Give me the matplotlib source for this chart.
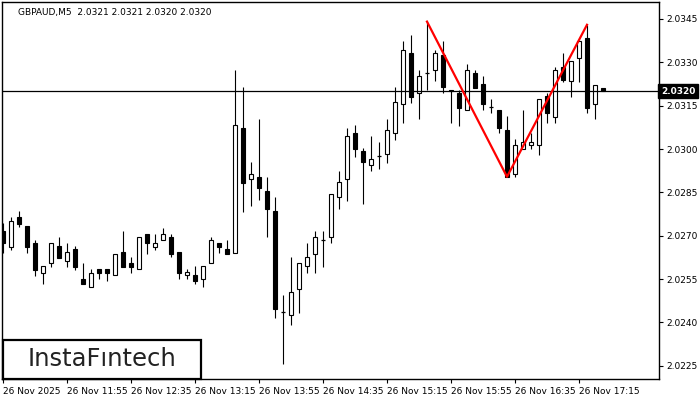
import numpy as np
import matplotlib
matplotlib.use('Agg')
import matplotlib.pyplot as plt
from matplotlib.patches import Rectangle

# GBPAUD M5, 26 Nov 2025, 11:15 .. 17:30
opens = [2.02717, 2.02662, 2.02764, 2.02734, 2.02676, 2.02572, 2.02605, 2.02665,
         2.02614, 2.02654, 2.02551, 2.02524, 2.02584, 2.02584, 2.02563, 2.02644,
         2.02606, 2.02584, 2.02706, 2.02662, 2.02684, 2.02696, 2.02644, 2.02563,
         2.02563, 2.02551, 2.02605, 2.02674, 2.02654, 2.02641, 2.03073, 2.02895,
         2.02903, 2.02855, 2.02786, 2.02435, 2.02425, 2.02515, 2.02594, 2.02636,
         2.02684, 2.02695, 2.02833, 2.02895, 2.03055, 2.02992, 2.02944, 2.02975,
         2.02982, 2.03055, 2.03155, 2.03331, 2.03193, 2.03263, 2.03272, 2.03324,
         2.03203, 2.03193, 2.03134, 2.03263, 2.03224, 2.03144, 2.03134, 2.03066,
         2.02913, 2.03001, 2.03013, 2.03013, 2.03184, 2.03112, 2.03283, 2.03234,
         2.03314, 2.03384, 2.03155, 2.03210]
highs = [2.02743, 2.02764, 2.02786, 2.02734, 2.02685, 2.02595, 2.02674, 2.02697,
         2.02676, 2.02665, 2.02605, 2.02584, 2.02584, 2.02584, 2.02636, 2.02716,
         2.02626, 2.02695, 2.02706, 2.02706, 2.02727, 2.02706, 2.02644, 2.02584,
         2.02595, 2.02594, 2.02696, 2.02674, 2.02685, 2.03274, 2.03216, 2.02956,
         2.03105, 2.02904, 2.02835, 2.02495, 2.02628, 2.02606, 2.02675, 2.02715,
         2.02715, 2.02843, 2.02924, 2.03073, 2.03083, 2.03003, 2.03045, 2.03024,
         2.03104, 2.03215, 2.03373, 2.03395, 2.03272, 2.03441, 2.03342, 2.03373,
         2.03204, 2.03203, 2.03293, 2.03272, 2.03252, 2.03172, 2.03134, 2.03114,
         2.03034, 2.03135, 2.03055, 2.03172, 2.03193, 2.03283, 2.03333, 2.03304,
         2.03373, 2.03430, 2.03223, 2.03210]
lows = [2.02641, 2.02651, 2.02730, 2.02641, 2.02561, 2.02533, 2.02593, 2.02624,
        2.02593, 2.02582, 2.02534, 2.02524, 2.02551, 2.02545, 2.02563, 2.02593,
        2.02572, 2.02584, 2.02636, 2.02651, 2.02684, 2.02625, 2.02551, 2.02551,
        2.02534, 2.02524, 2.02605, 2.02641, 2.02636, 2.02641, 2.02783, 2.02804,
        2.02824, 2.02695, 2.02414, 2.02255, 2.02391, 2.02434, 2.02572, 2.02572,
        2.02593, 2.02674, 2.02794, 2.02821, 2.02974, 2.02811, 2.02923, 2.02932,
        2.02953, 2.03031, 2.03091, 2.03160, 2.03103, 2.03203, 2.03234, 2.03193,
        2.03091, 2.03081, 2.03134, 2.03212, 2.03134, 2.03124, 2.03055, 2.02904,
        2.02902, 2.03001, 2.03001, 2.02980, 2.03091, 2.03091, 2.03233, 2.03181,
        2.03233, 2.03124, 2.03103, 2.03200]
closes = [2.02674, 2.02752, 2.02742, 2.02662, 2.02582, 2.02595, 2.02674, 2.02624,
          2.02644, 2.02593, 2.02534, 2.02572, 2.02572, 2.02572, 2.02636, 2.02593,
          2.02593, 2.02695, 2.02674, 2.02674, 2.02705, 2.02636, 2.02572, 2.02575,
          2.02545, 2.02594, 2.02684, 2.02662, 2.02636, 2.03083, 2.02884, 2.02913,
          2.02864, 2.02794, 2.02445, 2.02435, 2.02504, 2.02606, 2.02625, 2.02695,
          2.02684, 2.02843, 2.02885, 2.03044, 2.03001, 2.02954, 2.02965, 2.02975,
          2.03065, 2.03162, 2.03342, 2.03181, 2.03252, 2.03263, 2.03331, 2.03214,
          2.03200, 2.03143, 2.03272, 2.03212, 2.03155, 2.03144, 2.03072, 2.02904,
          2.03013, 2.03023, 2.03023, 2.03172, 2.03124, 2.03272, 2.03240, 2.03304,
          2.03373, 2.03143, 2.03223, 2.03200]

tick_pos = [0, 8, 16, 24, 32, 40, 48, 56, 64, 72]
tick_labels = ['26 Nov 2025', '26 Nov 11:55', '26 Nov 12:35', '26 Nov 13:15',
               '26 Nov 13:55', '26 Nov 14:35', '26 Nov 15:15', '26 Nov 15:55',
               '26 Nov 16:35', '26 Nov 17:15']
price_ticks = [2.0225, 2.0240, 2.0255, 2.0270, 2.0285, 2.0300, 2.0315, 2.0330, 2.0345]

# double top pattern: high -> low -> high
pattern_idx = [53, 63, 73]
pattern_val = [highs[53], lows[63], highs[73]]

current_price = 2.0320
title = 'GBPAUD,M5  2.0321 2.0321 2.0320 2.0320'

plt.rcParams['font.family'] = ['DejaVu Sans']

fig = plt.figure(figsize=(7, 4), dpi=100)
ax = fig.add_axes([2 / 700, 21 / 400, 657 / 700, 377 / 400])

x = np.arange(len(opens))
o = np.array(opens)
h = np.array(highs)
l = np.array(lows)
c = np.array(closes)

ax.vlines(x, l, h, color='black', linewidth=0.8, zorder=2)
w = 0.6
for i in range(len(x)):
    lo, hi = min(o[i], c[i]), max(o[i], c[i])
    if hi - lo < 0.000015:
        ax.hlines(o[i], x[i] - w / 2, x[i] + w / 2, color='black', linewidth=0.9, zorder=3)
        continue
    face = 'white' if c[i] > o[i] else 'black'
    ax.add_patch(Rectangle((x[i] - w / 2, lo), w, hi - lo, facecolor=face,
                           edgecolor='black', linewidth=0.8, zorder=3))

ax.axhline(current_price, color='black', linewidth=0.9, zorder=4)
ax.plot(pattern_idx, pattern_val, color='#ff0000', linewidth=1.6, zorder=5)

ax.set_xlim(-0.125, 82)
ax.set_ylim(2.022043, 2.035088)

ax.yaxis.tick_right()
ax.set_yticks(price_ticks)
ax.set_yticklabels([f'{p:.4f}' for p in price_ticks])
ax.set_xticks(tick_pos)
ax.set_xticklabels(tick_labels, ha='left')
ax.tick_params(axis='both', labelsize=6.5, length=3, width=0.8, color='black', pad=2)
ax.tick_params(axis='x', pad=3)
for sp in ax.spines.values():
    sp.set_linewidth(1)
    sp.set_color('black')

# price tag on the right axis
ax.text(1.003, current_price, f'{current_price:.4f}', transform=ax.get_yaxis_transform(),
        ha='left', va='center', fontsize=6.5, color='white', fontweight='bold',
        bbox=dict(boxstyle='square,pad=0.3', facecolor='black', edgecolor='black'), zorder=6)

ax.text(0.025, 0.985, title, transform=ax.transAxes, ha='left', va='top',
        fontsize=6.5, color='black')

# logo box
fig.patches.append(Rectangle((3 / 700, 21 / 400), 198 / 700, 39 / 400, transform=fig.transFigure,
                             facecolor='white', edgecolor='black', linewidth=1.6, zorder=10))
fig.text(102 / 700, 40.5 / 400, 'InstaFıntech', ha='center', va='center', fontsize=17.5,
         color='#222222', fontweight='medium', zorder=11)

fig.savefig('out.png', dpi=100)
